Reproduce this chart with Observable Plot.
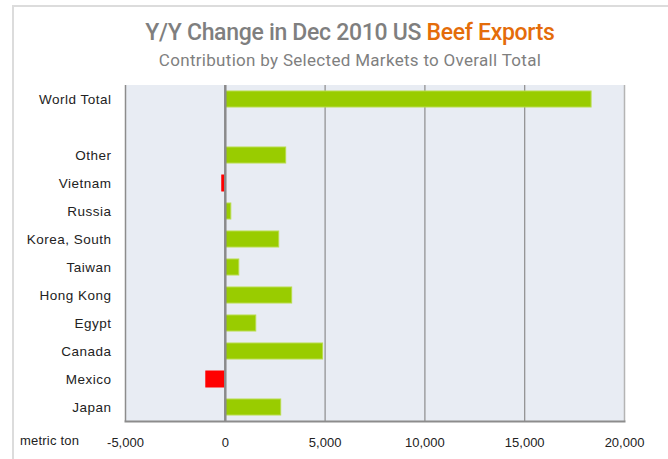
<!DOCTYPE html>
<html>
<head>
<meta charset="utf-8">
<script src="https://cdn.jsdelivr.net/npm/d3@7"></script>
<script src="https://cdn.jsdelivr.net/npm/@observablehq/plot@0.6"></script>
<style>
  html, body { margin: 0; padding: 0; background: #fff; }
  #wrap { position: relative; width: 668px; height: 459px; overflow: hidden; font-family: "Liberation Sans", Arial, sans-serif; }
  #frame { position: absolute; left: 12px; top: 5px; width: 700px; height: 500px; border-top: 2px solid #dcdcdc; border-left: 2px solid #dcdcdc; }
  #title { position: absolute; left: 0; width: 700px; top: 19px; text-align: center; font-family: "Roboto", "Liberation Sans Narrow", sans-serif; font-size: 23px; font-weight: 500; color: #7f7f7f; letter-spacing: -0.3px; }
  #title span { color: #e46c0a; }
  #subtitle { position: absolute; left: 0; width: 700px; top: 50px; text-align: center; font-family: "Roboto", sans-serif; font-size: 17px; color: #7f7f7f; letter-spacing: 0.3px; }
  #unit { position: absolute; left: 20px; top: 433px; font-size: 13px; color: #222; font-family: "Liberation Sans", Arial, sans-serif; letter-spacing: 0.2px; }
  #chart { position: absolute; left: 0; top: 0; }
  #chart svg g[aria-label="y-axis tick label"] text { letter-spacing: 0.5px; }
</style>
</head>
<body>
<div id="wrap">
  <div id="frame"></div>
  <div id="title">Y/Y Change in Dec 2010 US <span>Beef Exports</span></div>
  <div id="subtitle">Contribution by Selected Markets to Overall Total</div>
  <div id="unit">metric ton</div>
  <div id="chart"></div>
</div>
<script>
const categories = ["World Total", "", "Other", "Vietnam", "Russia", "Korea, South", "Taiwan", "Hong Kong", "Egypt", "Canada", "Mexico", "Japan"];
const values = [18350, null, 3050, -150, 300, 2700, 700, 3350, 1550, 4900, -950, 2800];
const xTicks = [-5000, 0, 5000, 10000, 15000, 20000];
const gridValues = [5000, 10000, 15000];

const data = categories.map((c, i) => ({market: c, value: values[i]})).filter(d => d.value != null);
const fmt = v => d3.format(",")(v).replace("\u2212", "-");

const chart = Plot.plot({
  width: 668,
  height: 459,
  marginTop: 85,
  marginBottom: 38,
  marginLeft: 125,
  marginRight: 44,
  style: {fontFamily: "Liberation Sans, Arial, sans-serif", fontSize: "13px", color: "#222", background: "transparent"},
  x: {domain: [-5000, 20000], ticks: xTicks, tickFormat: fmt, label: null},
  y: {domain: categories, paddingInner: 0.43, paddingOuter: 0.215, label: null},
  marks: [
    Plot.rect([0], {x1: -5000, x2: 20000, fill: "#e8ecf3"}),
    Plot.ruleX(gridValues, {stroke: "#8c8c8c", strokeWidth: 1.2}),
    Plot.ruleX([20000], {stroke: "#b4b4b4", strokeWidth: 1.5}),
    Plot.ruleX([-5000], {stroke: "#8c8c8c", strokeWidth: 1.5}),
    Plot.frame({anchor: "bottom", stroke: "#8c8c8c", strokeWidth: 2}),
    Plot.barX(data, {
      y: "market",
      x: "value",
      fill: d => d.value < 0 ? "#ff0000" : "#99cc00",
      stroke: d => d.value < 0 ? "#ff0000" : "#b8dc4a",
      strokeWidth: 1
    }),
    Plot.ruleX([0], {stroke: "#8a8a8a", strokeWidth: 2.5}),
    Plot.axisX({ticks: xTicks, tickFormat: fmt, tickSize: 0, tickPadding: 16, label: null, fontSize: 13}),
    Plot.axisY({tickSize: 0, tickPadding: 14, label: null, fontSize: 13.5})
  ]
});
document.getElementById("chart").appendChild(chart);
</script>
</body>
</html>
